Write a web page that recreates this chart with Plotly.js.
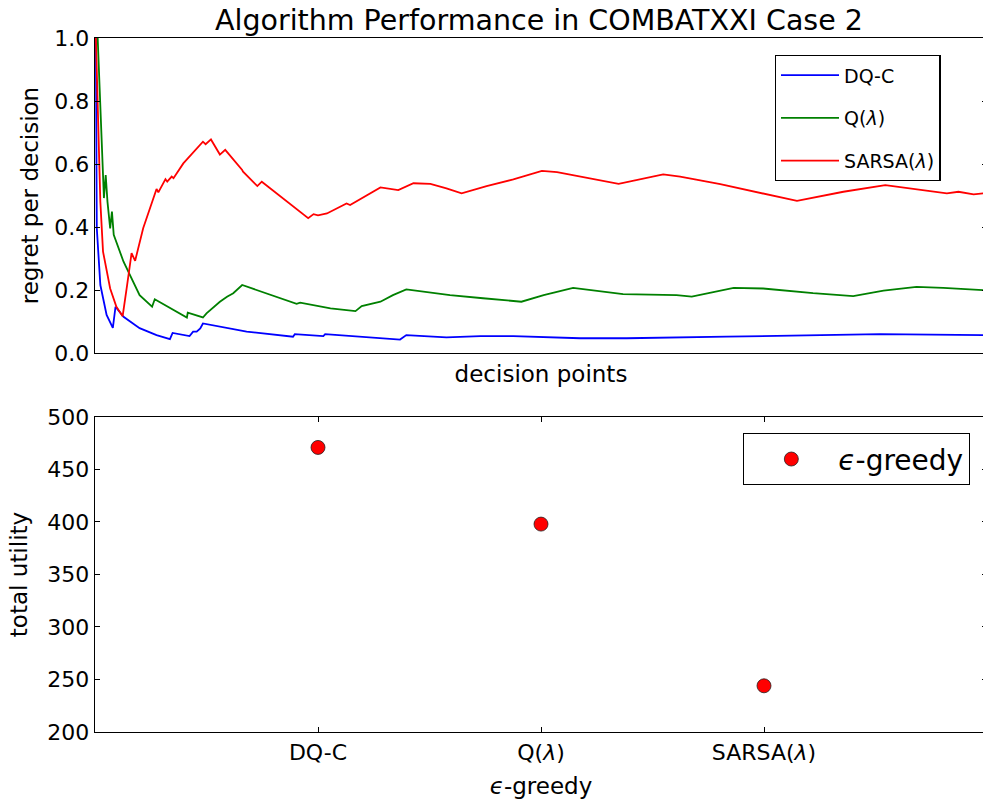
<!DOCTYPE html>
<html>
<head>
<meta charset="utf-8">
<script src="https://cdn.plot.ly/plotly-3.0.1.min.js"></script>
<style>
html, body { margin: 0; padding: 0; overflow: hidden; background: #fff; }
#chart { width: 988px; height: 803px; }
</style>
</head>
<body>
<div id="chart"></div>
<script>
// ---- Top panel: regret per decision over decision points ----
const dqcX = [1, 2, 6, 13, 20, 23, 32, 50, 69, 84, 87, 106, 110, 114, 118, 121, 170, 222, 224, 256, 258, 342, 349, 394, 432, 469, 544, 596, 708, 820, 880, 996];
const dqcY = [1.0, 0.397, 0.216, 0.121, 0.080, 0.147, 0.115, 0.079, 0.057, 0.044, 0.064, 0.054, 0.068, 0.068, 0.078, 0.094, 0.068, 0.052, 0.060, 0.054, 0.060, 0.043, 0.057, 0.050, 0.054, 0.054, 0.047, 0.047, 0.052, 0.057, 0.060, 0.057];

const qX = [3, 6, 9, 10, 12, 14, 17, 19, 21, 32, 50, 64, 67, 103, 104, 121, 125, 133, 140, 148, 155, 165, 226, 230, 264, 292, 299, 320, 334, 349, 368, 398, 435, 478, 503, 536, 592, 652, 669, 716, 749, 805, 850, 884, 921, 951, 996];
const qY = [1.0, 0.798, 0.565, 0.492, 0.565, 0.480, 0.396, 0.449, 0.375, 0.290, 0.184, 0.147, 0.171, 0.113, 0.128, 0.113, 0.126, 0.147, 0.163, 0.179, 0.190, 0.216, 0.156, 0.160, 0.142, 0.133, 0.149, 0.163, 0.184, 0.202, 0.195, 0.184, 0.174, 0.163, 0.184, 0.207, 0.187, 0.184, 0.179, 0.207, 0.205, 0.190, 0.181, 0.198, 0.210, 0.207, 0.200];

const sarsaX = [1, 4, 6, 9, 17, 24, 31, 36, 41, 45, 54, 69, 71, 79, 81, 86, 88, 99, 121, 124, 130, 140, 146, 165, 166, 182, 187, 239, 245, 250, 260, 282, 286, 320, 340, 357, 376, 394, 411, 439, 469, 501, 518, 587, 637, 656, 701, 787, 839, 886, 955, 968, 985, 996];
const sarsaY = [1.0, 0.692, 0.480, 0.322, 0.205, 0.147, 0.117, 0.216, 0.317, 0.293, 0.396, 0.521, 0.510, 0.552, 0.544, 0.560, 0.555, 0.602, 0.671, 0.663, 0.678, 0.630, 0.645, 0.581, 0.576, 0.530, 0.544, 0.428, 0.441, 0.437, 0.443, 0.475, 0.470, 0.526, 0.517, 0.539, 0.537, 0.523, 0.507, 0.530, 0.551, 0.578, 0.574, 0.537, 0.567, 0.560, 0.536, 0.483, 0.512, 0.533, 0.507, 0.512, 0.504, 0.507];

const seriesNames = ['DQ-C', 'Q(<i>λ</i>)', 'SARSA(<i>λ</i>)'];
const seriesColors = ['#0000ff', '#008000', '#ff0000'];

// ---- Bottom panel: total utility per algorithm ----
const algorithms = ['DQ-C', 'Q(<i>λ</i>)', 'SARSA(<i>λ</i>)'];
const totalUtility = [471, 398, 244];
const utilityErr = [2, 2, 2];

const FONT = 'DejaVu Sans, Liberation Sans, sans-serif';

const lineX = [dqcX, qX, sarsaX];
const lineY = [dqcY, qY, sarsaY];
const traces = lineX.map((xs, i) => ({
  type: 'scatter', mode: 'lines',
  x: xs, y: lineY[i],
  name: seriesNames[i],
  legendgroup: 'g' + i,
  line: { color: seriesColors[i], width: 1.8 },
  xaxis: 'x', yaxis: 'y',
  hoverinfo: 'skip'
}));

traces.push({
  type: 'scatter', mode: 'markers',
  x: algorithms, y: totalUtility,
  name: '<i>ϵ</i>-greedy',
  legend: 'legend2',
  marker: { color: '#ff0000', size: 14, line: { color: '#222', width: 0.8 } },
  error_y: { type: 'data', array: utilityErr, visible: true, color: '#ff4040', thickness: 1.5, width: 5 },
  xaxis: 'x2', yaxis: 'y2',
  hoverinfo: 'skip'
});

const axisCommon = {
  showline: true, linecolor: '#000', linewidth: 1.3,
  mirror: 'ticks', ticks: 'inside', ticklen: 5, tickcolor: '#000', tickwidth: 1,
  showgrid: false, zeroline: false,
  tickfont: { family: FONT, size: 22, color: '#000' }
};
const titleFont = { family: FONT, size: 23, color: '#000' };

const layout = {
  width: 988, height: 803,
  margin: { l: 95, r: 1, t: 38, b: 71 },
  paper_bgcolor: '#fff', plot_bgcolor: '#fff',
  font: { family: FONT, color: '#000' },
  title: {
    text: 'Algorithm Performance in COMBATXXI Case 2',
    font: { family: FONT, size: 28.5, color: '#000' },
    x: 0.5455, xanchor: 'center', y: 0.975, yanchor: 'middle'
  },
  xaxis: Object.assign({}, axisCommon, {
    domain: [0, 1], anchor: 'y', range: [0, 1000],
    ticks: '', showticklabels: false,
    title: { text: 'decision points', font: titleFont, standoff: 12 }
  }),
  yaxis: Object.assign({}, axisCommon, {
    domain: [0.546, 1], anchor: 'x', range: [0, 1],
    tickvals: [0, 0.2, 0.4, 0.6, 0.8, 1.0],
    ticktext: ['0.0', '0.2', '0.4', '0.6', '0.8', '1.0'],
    title: { text: 'regret per decision', font: titleFont, standoff: 9 }
  }),
  xaxis2: Object.assign({}, axisCommon, {
    domain: [0, 1], anchor: 'y2', type: 'category',
    categoryorder: 'array', categoryarray: algorithms,
    range: [-1, 3],
    title: { text: '<i>ϵ</i>-greedy', font: titleFont, standoff: 14 }
  }),
  yaxis2: Object.assign({}, axisCommon, {
    domain: [0, 0.4539], anchor: 'x2', range: [200, 500],
    tickvals: [200, 250, 300, 350, 400, 450, 500],
    title: { text: 'total utility', font: titleFont, standoff: 13 }
  }),
  showlegend: true,
  legend: {
    x: 0.762, y: 0.9755, xanchor: 'left', yanchor: 'top',
    bordercolor: '#000', borderwidth: 1.3, bgcolor: '#fff',
    font: { family: FONT, size: 19, color: '#000' },
    traceorder: 'grouped', tracegroupgap: 15,
    itemwidth: 58
  },
  legend2: {
    x: 0.7265, y: 0.4308, xanchor: 'left', yanchor: 'top',
    bordercolor: '#000', borderwidth: 1.3, bgcolor: '#fff',
    font: { family: FONT, size: 28, color: '#000' },
    itemwidth: 84
  }
};

Plotly.newPlot('chart', traces, layout, { staticPlot: true, displayModeBar: false });
</script>
</body>
</html>
